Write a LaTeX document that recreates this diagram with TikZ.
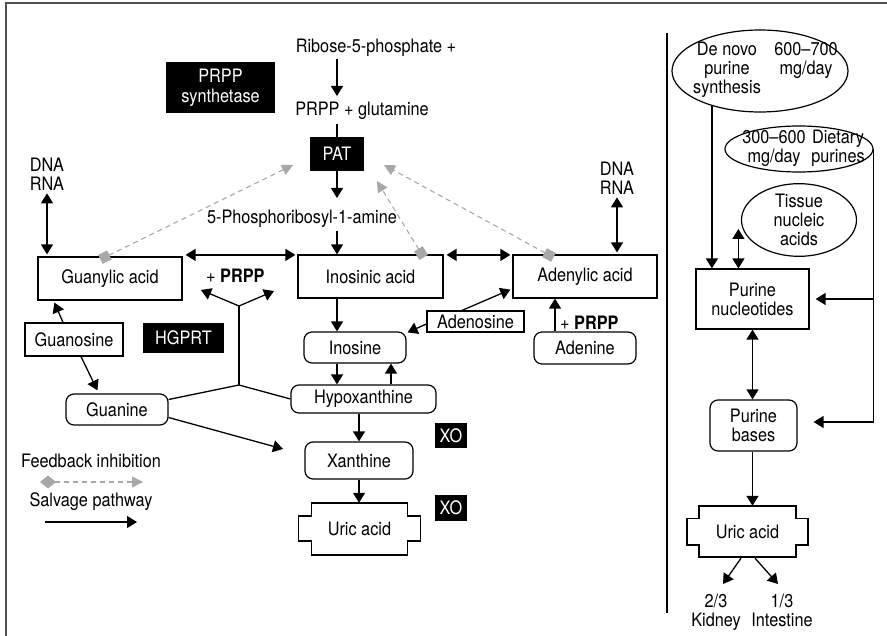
\documentclass[tikz,border=0pt]{standalone}
\usepackage{fontspec}
\setmainfont[FakeStretch=0.88]{TeX Gyre Heros}
\usetikzlibrary{arrows.meta,shapes.geometric,calc}
\definecolor{fbgray}{HTML}{A8A8A8}
\definecolor{framegray}{HTML}{505050}
\begin{document}
\begin{tikzpicture}[x=1pt,y=-1pt,
  font=\fontsize{18.5}{18.8}\selectfont,
  box/.style={draw, line width=1.2pt, inner sep=0pt, align=center},
  rbox/.style={box, rounded corners=8pt},
  enz/.style={fill=black, text=white, inner sep=0pt, align=center},
  oval/.style={draw, line width=1.2pt, ellipse, inner sep=0pt},
  lbl/.style={align=center, inner sep=0pt},
  arr/.style={line width=1.3pt, -{Triangle[length=10pt,width=12pt]}},
  darr/.style={line width=1.3pt, {Triangle[length=10pt,width=12pt]}-{Triangle[length=10pt,width=12pt]}},
  link/.style={line width=1.3pt},
  fbline/.style={draw=fbgray, line width=1.1pt, dash pattern=on 5pt off 4pt},
  fb/.style={fbline, {Square[length=10pt,width=10pt]}-{Triangle[length=11pt,width=11pt]}},
  uricshape/.style={line width=1.2pt}
]
\useasboundingbox (0,0) rectangle (887,636);
\clip (0,0) rectangle (887,636);
\draw[framegray, line width=1.4pt] (6,3) rectangle (960,700);
\draw[line width=1.5pt] (667,33) -- (667,613);

% ---------- left panel: nodes ----------
\node[lbl] (ribose) at (376,48) {Ribose-5-phosphate +};
\node[enz, minimum width=109, minimum height=51] (prpps) at (220.5,87.5) {PRPP\\[1pt]synthetase};
\node[lbl] (prppglu) at (362,111) {PRPP + glutamine};
\node[enz, minimum width=54, minimum height=34] (pat) at (337,154) {PAT};
\node[lbl] (amine) at (302,219) {5-Phosphoribosyl-1-amine};
\node[lbl] (dnaL) at (47,174) {DNA\\RNA};
\node[lbl] (dnaR) at (617,178) {DNA\\RNA};

\node[box, minimum width=144, minimum height=43] (guanylic) at (110,278.5) {Guanylic acid};
\node[box, minimum width=145, minimum height=43] (inosinic) at (370.5,276.5) {Inosinic acid};
\node[box, minimum width=144, minimum height=43] (adenylic) at (585,276.5) {Adenylic acid};
\node[lbl, anchor=west] (prppL) at (206,276) {+ \textbf{PRPP}};

\node[enz, minimum width=81, minimum height=30] (hgprt) at (183.5,338) {HGPRT};
\node[box, minimum width=98, minimum height=33] (guanosine) at (74,339.5) {Guanosine};
\node[rbox, minimum width=102, minimum height=31] (guanine) at (117,409.5) {Guanine};
\node[rbox, minimum width=102, minimum height=31] (inosine) at (355,347.5) {Inosine};
\node[box, minimum width=97, minimum height=21] (adenosine) at (475.5,321.5) {Adenosine};
\node[rbox, minimum width=102, minimum height=32] (adenine) at (585,348) {Adenine};
\node[lbl, anchor=west] (prppR) at (560,323) {+ \textbf{PRPP}};
\node[rbox, minimum width=145, minimum height=28] (hypox) at (363.5,399) {Hypoxanthine};
\node[rbox, minimum width=108, minimum height=37] (xanthine) at (359,460.5) {Xanthine};
\node[enz, minimum width=32, minimum height=25] (xo1) at (451,435.5) {XO};
\node[enz, minimum width=32, minimum height=26] (xo2) at (451,508) {XO};
\node[lbl, minimum width=96, minimum height=52] (uricL) at (359.5,529) {Uric acid};
\draw[uricshape, shift={(uricL.center)}] (-48,-26) -- (48,-26) -- (48,-13) -- (61,-13) -- (61,12) -- (48,12) -- (48,26) -- (-48,26) -- (-48,12) -- (-61,12) -- (-61,-13) -- (-48,-13) -- cycle;

% legend
\node[lbl] (fbtext) at (91,461) {Feedback inhibition};
\node[lbl] (salvtext) at (91,502) {Salvage pathway};
\coordinate (fbl1) at (40,482);
\coordinate (fbl2) at (143,482);
\coordinate (sv1) at (45,522);
\coordinate (sv2) at (137,522);
\draw[fbline, {Turned Square[length=16pt,width=13pt]}-{Triangle[length=11pt,width=11pt]}] (fbl1) -- (fbl2);
\draw[arr] (sv1) -- (sv2);

% ---------- left panel: connectors ----------
\draw[arr] ($(ribose.center -| pat)+(0,11)$) -- ($(prppglu.center -| pat)+(0,-15)$);
\draw[link] ($(prppglu.center -| pat)+(0,13)$) -- (pat.north);
\draw[arr] (pat.south) -- ($(amine.center -| pat)+(0,-21)$);
\draw[arr] ($(amine.center -| pat)+(0,12)$) -- (inosinic.north -| pat);
\draw[darr] ($(dnaL.south)+(0,3)$) -- ($(guanylic.north -| dnaL)+(0,-2)$);
\draw[darr] ($(dnaR.south)+(0,3)$) -- ($(adenylic.north -| dnaR)+(0,-2)$);
\draw[darr] ($(guanylic.north east)+(3,-1.5)$) -- ($(inosinic.north west)+(-2,0.5)$);
\draw[darr] ($(inosinic.north east)+(3,0.5)$) -- ($(adenylic.north west)+(-2,0.5)$);

% feedback inhibition
\coordinate (fbA) at (293,165);
\coordinate (fbB) at (377,181);
\coordinate (fbC) at (384,165);
\draw[fb] ($(guanylic.north west)+(63,3)$) -- (fbA);
\draw[fb] ($(inosinic.north east)+(-20,3)$) -- (fbB);
\draw[fb] ($(adenylic.north west)+(41,3)$) -- (fbC);

% HGPRT salvage fork
\coordinate (yj) at (239,385);
\coordinate (ytop) at (239,306);
\coordinate (yl) at (201,290);
\coordinate (yr) at (274,291);
\draw[link] ($(guanine.east)+(0,-10)$) -- (yj) -- (hypox.west);
\draw[link] (yj) -- (ytop);
\draw[arr] (ytop) -- (yl);
\draw[arr] (ytop) -- (yr);

\draw[arr] ($(guanosine.north)+(-11,0)$) -- ($(guanylic.south west)+(17,2)$);
\draw[arr] ($(guanosine.south)+(7,0)$) -- ($(guanine.north west)+(32,-3)$);
\coordinate (gx) at (283,449);
\draw[arr] ($(guanine.east)+(0,8)$) -- (gx);

\draw[arr] (inosinic.south -| pat) -- (inosine.north -| pat);
\draw[arr] ($(adenosine.west)+(0,2.5)$) -- ($(inosine.north east)+(1,1)$);
\draw[arr] ($(adenosine.north)+(-13.5,0)$) -- ($(adenylic.south west)+(-2,-9)$);
\draw[arr] ($(adenine.north)+(-30,0)$) -- ($(adenylic.south)+(-30,0)$);
\draw[arr] (inosine.south -| pat) -- (hypox.north -| pat);
\coordinate (upx) at (391,0);
\draw[arr] (hypox.north -| upx) -- (inosine.south -| upx);
\draw[arr] (hypox.south -| xanthine) -- (xanthine.north);
\draw[arr] (xanthine.south) -- (xanthine.south |- uricL.north);

% ---------- right panel ----------
\node[oval, minimum width=176, minimum height=82] (denovo) at (760,71) {};
\node[lbl, anchor=north] (dnt1) at (727,42) {De novo\\purine\\synthesis};
\node[lbl, anchor=north] (dnt2) at (806,42) {600–700\\mg/day};
\node[oval, minimum width=148, minimum height=46] (dietary) at (799,149) {};
\node[lbl, anchor=north] (dtt1) at (774,130) {300–600\\mg/day};
\node[lbl, anchor=north] (dtt2) at (838,130) {Dietary\\purines};
\node[oval, minimum width=115, minimum height=58, align=center] (tissue) at (799,220) {Tissue\\nucleic\\acids};
\node[box, minimum width=113, minimum height=60] (nucleo) at (752.5,299) {Purine\\nucleotides};
\node[rbox, minimum width=87, minimum height=51] (bases) at (753.5,425.5) {Purine\\bases};
\node[lbl, minimum width=97, minimum height=51] (uricR) at (747.5,531.5) {Uric acid};
\draw[uricshape, shift={(uricR.center)}] (-48.5,-25.5) -- (48.5,-25.5) -- (48.5,-13) -- (60.5,-13) -- (60.5,13.5) -- (48.5,13.5) -- (48.5,25.5) -- (-48.5,25.5) -- (-48.5,13.5) -- (-60.5,13.5) -- (-60.5,-13) -- (-48.5,-13) -- cycle;
\node[lbl, anchor=north] (kidney) at (716,594) {2/3\\Kidney};
\node[lbl, anchor=north] (intestine) at (782,594) {1/3\\Intestine};

\draw[arr] (denovo.216) -- (denovo.216 |- nucleo.north);
\coordinate (tissL) at ($(tissue.west)+(-2.5,9)$);
\draw[darr] (tissL) -- (tissL |- nucleo.north);
\draw[arr] (dietary.east) -- ++(0,273) -- ($(bases.east)+(16,-3.5)$);
\draw[arr] (dietary.east |- nucleo.east) -- ($(nucleo.east)+(6,0)$);
\draw[darr] (nucleo.south) -- (nucleo.south |- bases.north);
\draw[arr] ($(bases.south)+(-1,0)$) -- ($(bases.south |- uricR.north)+(-1,0)$);
\draw[arr] ($(uricR.south)+(-6.5,1)$) -- ($(kidney.north)+(7,-10)$);
\draw[arr] ($(uricR.south)+(7.5,1)$) -- ($(intestine.north)+(-4,-10)$);
\end{tikzpicture}
\end{document}
